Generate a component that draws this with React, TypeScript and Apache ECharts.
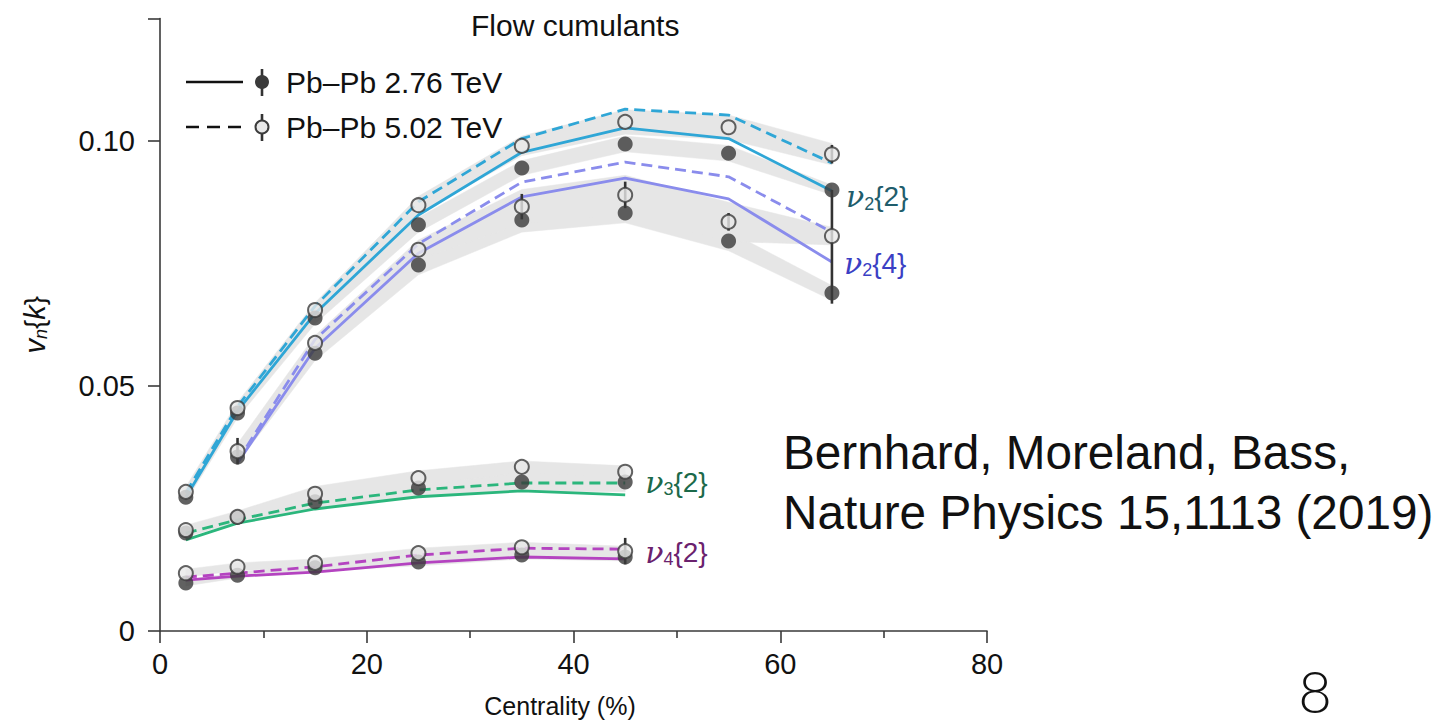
import React, { useEffect, useRef } from "react";
import * as echarts from "echarts";

// ---------------- data ----------------
const CENTRALITY = [2.5, 7.5, 15, 25, 35, 45, 55, 65];
const CENTRALITY_V24 = [7.5, 15, 25, 35, 45, 55, 65];
const CENTRALITY_HIGH = [2.5, 7.5, 15, 25, 35, 45];

const X_TICKS = [0, 20, 40, 60, 80];
const Y_TICKS = [0, 0.05, 0.1, 0.125];
const Y_TICK_LABELS = [0, 0.05, 0.1];

// v2{2}
const V22_DATA_276 = [0.0273, 0.0445, 0.0639, 0.0829, 0.0945, 0.0994, 0.0975, 0.09];
const V22_DATA_502 = [0.0284, 0.0455, 0.0655, 0.0869, 0.099, 0.1039, 0.1028, 0.0973];
const V22_SYS_276 = [0.0008, 0.001, 0.0012, 0.0015, 0.0015, 0.0016, 0.0016, 0.001];
const V22_SYS_502 = [0.001, 0.0012, 0.0015, 0.0018, 0.002, 0.0025, 0.0025, 0.0022];
const V22_MODEL_276 = [0.0273, 0.0449, 0.0648, 0.0849, 0.0977, 0.1027, 0.1005, 0.0898];
const V22_MODEL_502 = [0.0282, 0.0458, 0.0663, 0.0876, 0.1005, 0.1065, 0.1053, 0.0955];

// v2{4}
const V24_DATA_276 = [0.0355, 0.0567, 0.0747, 0.0839, 0.0853, 0.0796, 0.069];
const V24_DATA_502 = [0.0367, 0.0588, 0.0778, 0.0866, 0.089, 0.0835, 0.0806];
const V24_SYS_276 = [0.0012, 0.0015, 0.002, 0.0025, 0.002, 0.002, 0.0015];
const V24_SYS_502 = [0.0015, 0.0015, 0.002, 0.0035, 0.004, 0.004, 0.0018];
const V24_MODEL_276 = [0.0343, 0.0577, 0.0771, 0.0886, 0.0924, 0.0882, 0.0753];
const V24_MODEL_502 = [0.0347, 0.0595, 0.079, 0.0916, 0.0957, 0.0927, 0.0814];

// v3{2}
const V32_DATA_276 = [0.02, 0.0232, 0.0264, 0.0292, 0.0304, 0.0304];
const V32_DATA_502 = [0.0206, 0.0233, 0.028, 0.0312, 0.0335, 0.0325];
const V32_SYS_276 = [0.0008, 0.001, 0.0015, 0.0018, 0.002, 0.002];
const V32_SYS_502 = [0.001, 0.0012, 0.0015, 0.0015, 0.0012, 0.0012];
const V32_MODEL_276 = [0.0186, 0.022, 0.0249, 0.0274, 0.0286, 0.0278];
const V32_MODEL_502 = [0.02, 0.0227, 0.0261, 0.0288, 0.0302, 0.0302];

// v4{2}
const V42_DATA_276 = [0.0098, 0.0114, 0.0129, 0.0141, 0.0155, 0.0151];
const V42_DATA_502 = [0.0118, 0.0131, 0.0139, 0.0159, 0.0171, 0.0163];
const V42_SYS_276 = [0.0006, 0.0006, 0.0007, 0.0008, 0.0008, 0.0008];
const V42_SYS_502 = [0.0008, 0.0008, 0.0008, 0.001, 0.001, 0.001];
const V42_MODEL_276 = [0.0104, 0.0112, 0.012, 0.0139, 0.0151, 0.0147];
const V42_MODEL_502 = [0.011, 0.0118, 0.0131, 0.0155, 0.0169, 0.0167];

// visible statistical error bars: [centrality, low, high]
const ERROR_BARS = [
  [7.5, 0.034, 0.0394],
  [35, 0.084, 0.0892],
  [45, 0.0863, 0.0917],
  [55, 0.0817, 0.0853],
  [65, 0.0954, 0.0992],
  [65, 0.0668, 0.09],
  [45, 0.0136, 0.019],
];

// ---------------- styles ----------------
const FONT = "'Liberation Sans', Arial, Helvetica, sans-serif";
const AX = "#3a3a3a";
const BAND = "#e6e6e6";
const FILLED = "#3a3a3a";
const OPEN_FILL = "#e8e8e8";
const OPEN_BORDER = "#3c3c3c";

const C_V22 = "#2fa6d6";
const C_V24 = "#8a8cec";
const C_V32 = "#2bb67c";
const C_V42 = "#b443c0";

const pairs = (xs: number[], ys: number[]) => xs.map((x, i) => [x, ys[i]]);

// systematic band around a data series, drawn as one polygon through the axes' scales
function band(id: string, xs: number[], ys: number[], sys: number[]) {
  const rows = xs.map((x, i) => [x, ys[i] - sys[i], ys[i] + sys[i]]);
  return {
    type: "custom",
    id,
    data: rows,
    encode: { x: 0, y: [1, 2] },
    silent: true,
    z: 1,
    renderItem: (params: any, api: any) => {
      if (params.dataIndex !== 0) return null;
      const upper = rows.map((r) => api.coord([r[0], r[2]]));
      const lower = rows.map((r) => api.coord([r[0], r[1]])).reverse();
      return {
        type: "polygon",
        shape: { points: upper.concat(lower) },
        style: { fill: BAND, stroke: BAND, lineWidth: 0.5 },
      };
    },
  };
}

function modelLine(id: string, xs: number[], ys: number[], color: string, dashed: boolean, endLabel?: any) {
  const s: any = {
    type: "line",
    id,
    data: pairs(xs, ys),
    symbol: "none",
    lineStyle: { color, width: 2.8, type: dashed ? [11, 6] : "solid" },
    silent: true,
    z: 2,
  };
  if (endLabel) s.endLabel = endLabel;
  return s;
}

function points(id: string, xs: number[], ys: number[], open: boolean) {
  return {
    type: "scatter",
    id,
    data: pairs(xs, ys),
    symbol: "circle",
    symbolSize: open ? 14 : 15,
    itemStyle: open
      ? { color: OPEN_FILL, borderColor: OPEN_BORDER, borderWidth: 2 }
      : { color: FILLED },
    silent: true,
    z: open ? 5 : 4,
  };
}

function harmonicLabel(sub: string, inner: string, color: string, distance: number, dy: number) {
  return {
    show: true,
    formatter: () => "{v|ν}{s|" + sub + "}{" + inner + "}",
    color,
    fontSize: 28,
    fontFamily: FONT,
    lineHeight: 32,
    distance,
    offset: [0, dy],
    rich: {
      v: { fontFamily: "'DejaVu Serif', serif", fontStyle: "italic", fontSize: 30, color, lineHeight: 32 },
      s: { fontFamily: FONT, fontSize: 18, color, lineHeight: 12, verticalAlign: "bottom" },
    },
  };
}

export default function App() {
  const ref = useRef<HTMLDivElement>(null);

  useEffect(() => {
    if (!ref.current) return;
    const chart = echarts.init(ref.current, undefined, { renderer: "svg" });

    const series: any[] = [
      band("b22a", CENTRALITY, V22_DATA_276, V22_SYS_276),
      band("b22b", CENTRALITY, V22_DATA_502, V22_SYS_502),
      band("b24a", CENTRALITY_V24, V24_DATA_276, V24_SYS_276),
      band("b24b", CENTRALITY_V24, V24_DATA_502, V24_SYS_502),
      band("b32a", CENTRALITY_HIGH, V32_DATA_276, V32_SYS_276),
      band("b32b", CENTRALITY_HIGH, V32_DATA_502, V32_SYS_502),
      band("b42a", CENTRALITY_HIGH, V42_DATA_276, V42_SYS_276),
      band("b42b", CENTRALITY_HIGH, V42_DATA_502, V42_SYS_502),

      modelLine("m22a", CENTRALITY, V22_MODEL_276, C_V22, false, harmonicLabel("2", "2", "#1f5d6c", 14, 6)),
      modelLine("m22b", CENTRALITY, V22_MODEL_502, C_V22, true),
      modelLine("m24a", CENTRALITY_V24, V24_MODEL_276, C_V24, false, harmonicLabel("2", "4", "#3b3fc4", 12, 1)),
      modelLine("m24b", CENTRALITY_V24, V24_MODEL_502, C_V24, true),
      modelLine("m32a", CENTRALITY_HIGH, V32_MODEL_276, C_V32, false),
      modelLine("m32b", CENTRALITY_HIGH, V32_MODEL_502, C_V32, true, harmonicLabel("3", "2", "#1c6a4a", 20, -1)),
      modelLine("m42a", CENTRALITY_HIGH, V42_MODEL_276, C_V42, false),
      modelLine("m42b", CENTRALITY_HIGH, V42_MODEL_502, C_V42, true, harmonicLabel("4", "2", "#6b226e", 20, 3)),

      {
        type: "custom",
        id: "errbars",
        data: ERROR_BARS,
        encode: { x: 0, y: [1, 2] },
        silent: true,
        z: 3,
        renderItem: (_params: any, api: any) => {
          const lo = api.coord([api.value(0), api.value(1)]);
          const hi = api.coord([api.value(0), api.value(2)]);
          return {
            type: "line",
            shape: { x1: lo[0], y1: lo[1], x2: hi[0], y2: hi[1] },
            style: { stroke: "#333", lineWidth: 2.6 },
          };
        },
      },

      points("p22a", CENTRALITY, V22_DATA_276, false),
      points("p24a", CENTRALITY_V24, V24_DATA_276, false),
      points("p32a", CENTRALITY_HIGH, V32_DATA_276, false),
      points("p42a", CENTRALITY_HIGH, V42_DATA_276, false),
      points("p22b", CENTRALITY, V22_DATA_502, true),
      points("p24b", CENTRALITY_V24, V24_DATA_502, true),
      points("p32b", CENTRALITY_HIGH, V32_DATA_502, true),
      points("p42b", CENTRALITY_HIGH, V42_DATA_502, true),
    ];

    const txt = (text: string, x: number, y: number, fontSize: number, extra: any = {}) => ({
      type: "text",
      x,
      y,
      silent: true,
      z: 10,
      style: {
        text,
        fill: "#111",
        fontSize,
        fontFamily: FONT,
        verticalAlign: "middle",
        align: "left",
        ...extra,
      },
    });

    const option: any = {
      animation: false,
      backgroundColor: "#ffffff",
      title: {
        text: "Flow cumulants",
        left: 471,
        top: 10,
        padding: 0,
        textStyle: { fontSize: 30, fontWeight: "normal", color: "#111", fontFamily: FONT },
      },
      grid: { left: 160, right: 454, top: 18.5, bottom: 93, containLabel: false },
      xAxis: {
        type: "value",
        min: 0,
        max: 80,
        interval: 20,
        axisLine: { show: true, onZero: false, lineStyle: { color: AX, width: 1.6 } },
        axisTick: { show: true, length: 12, lineStyle: { color: AX, width: 1.6 }, customValues: X_TICKS },
        minorTick: { show: true, splitNumber: 2, length: 7, lineStyle: { color: AX, width: 1.6 } },
        axisLabel: { fontSize: 29, color: "#111", margin: 18, fontFamily: FONT, customValues: X_TICKS },
        splitLine: { show: false },
        minorSplitLine: { show: false },
        name: "Centrality (%)",
        nameLocation: "middle",
        nameGap: 62,
        nameTextStyle: { fontSize: 25, color: "#111", fontFamily: FONT, padding: [0, 27, 0, 0] },
      },
      yAxis: {
        type: "value",
        min: 0,
        max: 0.125,
        interval: 0.05,
        axisLine: { show: true, onZero: false, lineStyle: { color: AX, width: 1.6 } },
        axisTick: { show: true, length: 12, lineStyle: { color: AX, width: 1.6 }, customValues: Y_TICKS },
        axisLabel: {
          fontSize: 29,
          color: "#111",
          margin: 25,
          fontFamily: FONT,
          customValues: Y_TICK_LABELS,
          formatter: (v: number) => (v === 0 ? "0" : v > 0.11 ? "" : v.toFixed(2)),
        },
        splitLine: { show: false },
        name: "{v|v}{s|n}{{v|k}}",
        nameLocation: "middle",
        nameRotate: 90,
        nameGap: 110,
        nameTextStyle: {
          fontSize: 28,
          color: "#111",
          fontFamily: FONT,
          lineHeight: 31,
          rich: {
            v: { fontStyle: "italic", fontSize: 29, fontFamily: FONT, color: "#111", lineHeight: 31 },
            s: { fontStyle: "italic", fontSize: 18, fontFamily: FONT, color: "#111", lineHeight: 12, verticalAlign: "bottom" },
          },
        },
      },
      graphic: [
        // legend row 1
        { type: "line", silent: true, z: 10, shape: { x1: 186, y1: 82, x2: 243, y2: 82 }, style: { stroke: "#111", lineWidth: 2.6 } },
        { type: "line", silent: true, z: 10, shape: { x1: 262, y1: 69, x2: 262, y2: 96 }, style: { stroke: "#333", lineWidth: 2.6 } },
        { type: "circle", silent: true, z: 10, shape: { cx: 262, cy: 82, r: 7 }, style: { fill: FILLED } },
        txt("Pb–Pb 2.76 TeV", 286, 82, 30),
        // legend row 2
        { type: "line", silent: true, z: 10, shape: { x1: 186, y1: 127, x2: 243, y2: 127 }, style: { stroke: "#111", lineWidth: 2.6, lineDash: [13, 8] } },
        { type: "line", silent: true, z: 10, shape: { x1: 262, y1: 114, x2: 262, y2: 141 }, style: { stroke: "#333", lineWidth: 2.6 } },
        { type: "circle", silent: true, z: 10, shape: { cx: 262, cy: 127, r: 6.5 }, style: { fill: OPEN_FILL, stroke: OPEN_BORDER, lineWidth: 2 } },
        txt("Pb–Pb 5.02 TeV", 286, 127, 30),
        // citation
        txt("Bernhard, Moreland, Bass,", 783, 452, 47.7),
        txt("Nature Physics 15,1113 (2019)", 783, 512, 47.7),
        // page number
        txt("8", 1315, 690, 58, { align: "center", fontWeight: 300, fontFamily: "Lato, 'Noto Sans', " + FONT }),
      ],
      series,
    };

    chart.setOption(option);
    return () => chart.dispose();
  }, []);

  return (
    <div
      ref={ref}
      style={{ position: "fixed", left: 0, top: 0, width: 1441, height: 724, background: "#fff" }}
    />
  );
}
